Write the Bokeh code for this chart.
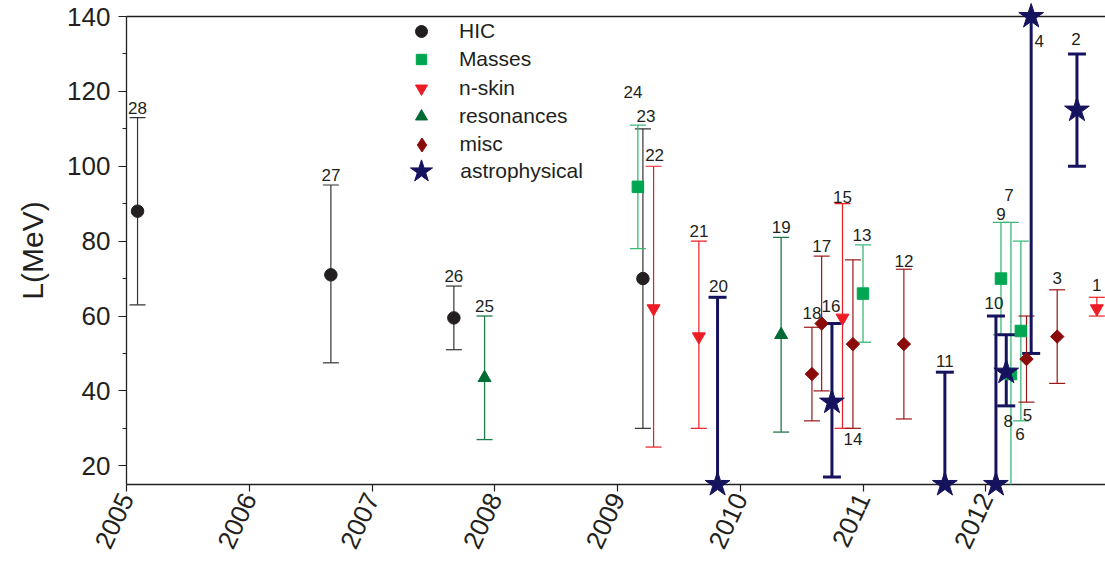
import math
from bokeh.plotting import figure
from bokeh.models import (ColumnDataSource, Range1d, SingleIntervalTicker, FixedTicker,
                          LinearAxis, Legend, LegendItem)
from bokeh.core.properties import value
from bokeh.embed import file_html
from bokeh.resources import INLINE

# ---------------- data ----------------
point_id = [28, 27, 26, 25, 24, 23, 22, 21, 20, 19, 18, 17, 16, 15,
            14, 13, 12, 11, 10, 9, 8, 7, 6, 5, 4, 3, 2, 1]
year = [2005.09, 2006.665, 2007.667, 2007.917, 2009.166, 2009.207, 2009.294,
        2009.663, 2009.815, 2010.333, 2010.584, 2010.663, 2010.747, 2010.833,
        2010.918, 2011.0, 2011.333, 2011.667, 2012.083, 2012.124, 2012.167,
        2012.205, 2012.286, 2012.332, 2012.37, 2012.582, 2012.743, 2012.905]
L_value = [88, 71, 59.5, 43.5, 94.5, 70, 62, 54.5, 15, 55, 44.5, 58, 37, 59.5,
           52.5, 66, 52.5, 15, 15, 70, 45, 44.5, 56, 48.5, 140, 54.5, 115, 62]
L_low = [63, 47.5, 51, 27, 78, 30, 25, 30, 15, 29, 32, 40, 17, 30,
         30, 53, 32.5, 15, 15, 55, 36, 15, 32, 37, 50, 42, 100, 60]
L_high = [113, 95, 68, 60, 111, 110, 100, 80, 65, 81, 57, 76, 58, 90,
          75, 79, 72.5, 45, 60, 85, 55, 85, 80, 60, 140, 67, 130, 65]
method = ["HIC", "HIC", "HIC", "resonances", "Masses", "HIC", "n-skin", "n-skin",
          "astrophysical", "resonances", "misc", "misc", "astrophysical", "n-skin",
          "misc", "Masses", "misc", "astrophysical", "astrophysical", "Masses",
          "astrophysical", "Masses", "Masses", "misc", "astrophysical", "misc",
          "astrophysical", "n-skin"]
categories = ["HIC", "Masses", "n-skin", "resonances", "misc", "astrophysical"]
Y_MIN, Y_MAX = 15, 140
X_MIN = 2005

# ---------------- styles ----------------
AX = "#231f20"
FONT = "Liberation Sans"
STYLE = {
    "HIC":           dict(marker="circle", size=12.5, angle=0, fill="#231f20",
                          stem="#333333", w=1.2, cap=16, lg_marker="circle", lg_size=12),
    "Masses":        dict(marker="square", size=11.5, angle=0, fill="#00a651",
                          stem="#3cb878", w=1.3, cap=16, lg_marker="square", lg_size=10.5),
    "n-skin":        dict(marker="inverted_triangle", size=13, angle=0, fill="#ed1c24",
                          stem="#ed1c24", w=1.2, cap=16, lg_marker="inverted_triangle", lg_size=12),
    "resonances":    dict(marker="triangle", size=13, angle=0, fill="#006b35",
                          stem="#1e7a46", w=1.3, cap=16, lg_marker="triangle", lg_size=12),
    "misc":          dict(marker="square", size=9.5, angle=math.pi / 4, fill="#8b0a0a",
                          stem="#9a1515", w=1.2, cap=16, lg_marker="diamond", lg_size=14),
    "astrophysical": dict(marker="star", size=26, angle=0, fill="#16135e",
                          stem="#16135e", w=3, cap=18, lg_marker="star", lg_size=23),
}
# label placement: (anchor, dx px, dy px)
LABEL_POS = {
    28: ("hi", 0, -10), 27: ("hi", 0, -9.5), 26: ("hi", 0, -10.5), 25: ("hi", 0, -10),
    24: ("hi", -5, -33), 23: ("hi", 3, -12.5), 22: ("hi", 1, -11), 21: ("hi", 0, -10),
    20: ("hi", 1, -11.5), 19: ("hi", 0, -10), 18: ("hi", 0, -14.5), 17: ("hi", 0, -10),
    16: ("hi", -1, -18), 15: ("hi", 0, -7), 14: ("lo", 0, 10.5), 13: ("hi", -1, -9.5),
    12: ("hi", 0, -8), 11: ("hi", 0, -11), 10: ("hi", -2, -13), 9: ("hi", 0, -8),
    8: ("lo", 2, 15), 7: ("hi", -2, -27), 6: ("lo", -1, 13), 5: ("lo", 1, 13),
    4: ("val", 8, 24), 3: ("hi", 0, -12), 2: ("hi", -1, -15), 1: ("hi", 0, -12),
}

W, H = 1105, 568
LEFT = 126                      # pixel column of 2005
PX_PER_YEAR = 122.75
Y_TOP_PX, Y_BOT_PX = 16, 484    # pixel rows of 140 and 15
PX_PER_L = (Y_BOT_PX - Y_TOP_PX) / (Y_MAX - Y_MIN)
X_END = X_MIN + (W - LEFT) / PX_PER_YEAR

# the frame covers the whole canvas; axes are pinned at 2005 / 15 / 140
p = figure(width=W, height=H,
           x_range=Range1d(X_MIN - LEFT / PX_PER_YEAR, X_END),
           y_range=Range1d(Y_MIN - (H - Y_BOT_PX) / PX_PER_L, Y_MAX + Y_TOP_PX / PX_PER_L),
           output_backend="svg", toolbar_location=None,
           min_border_left=0, min_border_right=0,
           min_border_top=0, min_border_bottom=0)
p.outline_line_color = None
p.xgrid.visible = False
p.ygrid.visible = False
p.background_fill_color = "white"

# x axis
xa = p.xaxis[0]
xa.fixed_location = Y_MIN
xa.bounds = (X_MIN, X_END)
xa.ticker = SingleIntervalTicker(interval=1, num_minor_ticks=0)
xa.major_label_orientation = math.radians(65)
xa.major_label_text_font = FONT
xa.major_label_text_font_size = "26px"
xa.major_label_text_color = AX
xa.major_label_standoff = 3
xa.major_tick_out = 7
xa.major_tick_in = 0
xa.axis_line_color = AX
xa.axis_line_width = 1.3
xa.major_tick_line_color = AX
xa.major_tick_line_width = 1.2
xa.level = "underlay"

# y axis
ya = p.yaxis[0]
ya.fixed_location = X_MIN
ya.bounds = (Y_MIN, Y_MAX)
ya.ticker = SingleIntervalTicker(interval=20, num_minor_ticks=2)
ya.major_label_text_font = FONT
ya.major_label_text_font_size = "26px"
ya.major_label_text_color = AX
ya.major_label_standoff = 8
ya.major_tick_out = 8
ya.major_tick_in = 0
ya.minor_tick_out = 4
ya.minor_tick_in = 0
ya.axis_line_color = AX
ya.axis_line_width = 1.3
ya.major_tick_line_color = AX
ya.minor_tick_line_color = AX
ya.axis_label = "L(MeV)"
ya.axis_label_text_font = FONT
ya.axis_label_text_font_size = "30px"
ya.axis_label_text_font_style = "normal"
ya.axis_label_text_color = AX
ya.axis_label_standoff = 15
ya.level = "underlay"

# top frame line (an axis without ticks at L = 140)
top = LinearAxis(fixed_location=Y_MAX, bounds=(X_MIN, X_END),
                 ticker=FixedTicker(ticks=[]), axis_line_color=AX,
                 axis_line_width=1.3, major_tick_out=0, major_tick_in=0,
                 minor_tick_out=0, minor_tick_in=0, level="underlay")
p.add_layout(top, "above")

# ---------------- error bars ----------------
for cat in categories:
    st = STYLE[cat]
    idx = [i for i, m in enumerate(method) if m == cat]
    src = ColumnDataSource(dict(x=[year[i] for i in idx],
                                lo=[L_low[i] for i in idx],
                                hi=[L_high[i] for i in idx]))
    p.segment(x0="x", y0="lo", x1="x", y1="hi", source=src,
              line_color=st["stem"], line_width=st["w"])
    cx = [year[i] for i in idx if Y_MIN < L_high[i] < Y_MAX] + \
         [year[i] for i in idx if Y_MIN < L_low[i] < Y_MAX]
    cy = [L_high[i] for i in idx if Y_MIN < L_high[i] < Y_MAX] + \
         [L_low[i] for i in idx if Y_MIN < L_low[i] < Y_MAX]
    p.scatter(x=cx, y=cy, marker="dash", size=st["cap"],
              line_color=st["stem"], line_width=st["w"])

# ---------------- markers ----------------
for cat in categories:
    st = STYLE[cat]
    idx = [i for i, m in enumerate(method) if m == cat]
    src = ColumnDataSource(dict(x=[year[i] for i in idx],
                                y=[L_value[i] for i in idx]))
    p.scatter(x="x", y="y", source=src, marker=st["marker"],
              size=st["size"], angle=st["angle"],
              fill_color=st["fill"], line_color=st["fill"], line_width=1)

# ---------------- point labels ----------------
lx, ly, ldx, ldy, lt = [], [], [], [], []
for i, pid in enumerate(point_id):
    anchor, dx, dy = LABEL_POS[pid]
    base = {"hi": L_high[i], "lo": L_low[i], "val": L_value[i]}[anchor]
    lx.append(year[i]); ly.append(min(base, Y_MAX)); ldx.append(dx); ldy.append(dy)
    lt.append(str(pid))
p.text(x="x", y="y", text="t", x_offset="dx", y_offset="dy",
       source=ColumnDataSource(dict(x=lx, y=ly, dx=ldx, dy=ldy, t=lt)),
       text_font=value(FONT), text_font_size="17px", text_color=AX,
       text_align="center", text_baseline="middle")

# ---------------- legend (one box per entry so key sizes can differ) ----------------
row_centers = [30.7, 59, 88.3, 115.5, 144, 171.7]   # px from top
KEY_X, TEXT_X = 421, 459.3
for cat, cy_ in zip(categories, row_centers):
    st = STYLE[cat]
    key = p.scatter(x=[float("nan")], y=[float("nan")], marker=st["lg_marker"],
                    size=st["lg_size"], fill_color=st["fill"], line_color=st["fill"])
    wg = st["lg_size"] / 0.4
    leg = Legend(items=[LegendItem(label=cat, renderers=[key])],
                 location=(KEY_X - wg / 2, H - (cy_ + wg / 2)),
                 glyph_width=int(round(wg)), glyph_height=int(round(wg)),
                 label_height=int(round(wg)),
                 label_standoff=int(round(TEXT_X - KEY_X - wg / 2)),
                 padding=0, margin=0, spacing=0,
                 border_line_alpha=0, background_fill_alpha=0,
                 label_text_font=FONT, label_text_font_size="21px",
                 label_text_color=AX)
    p.add_layout(leg)

open("out.html", "w").write(file_html(p, INLINE))
